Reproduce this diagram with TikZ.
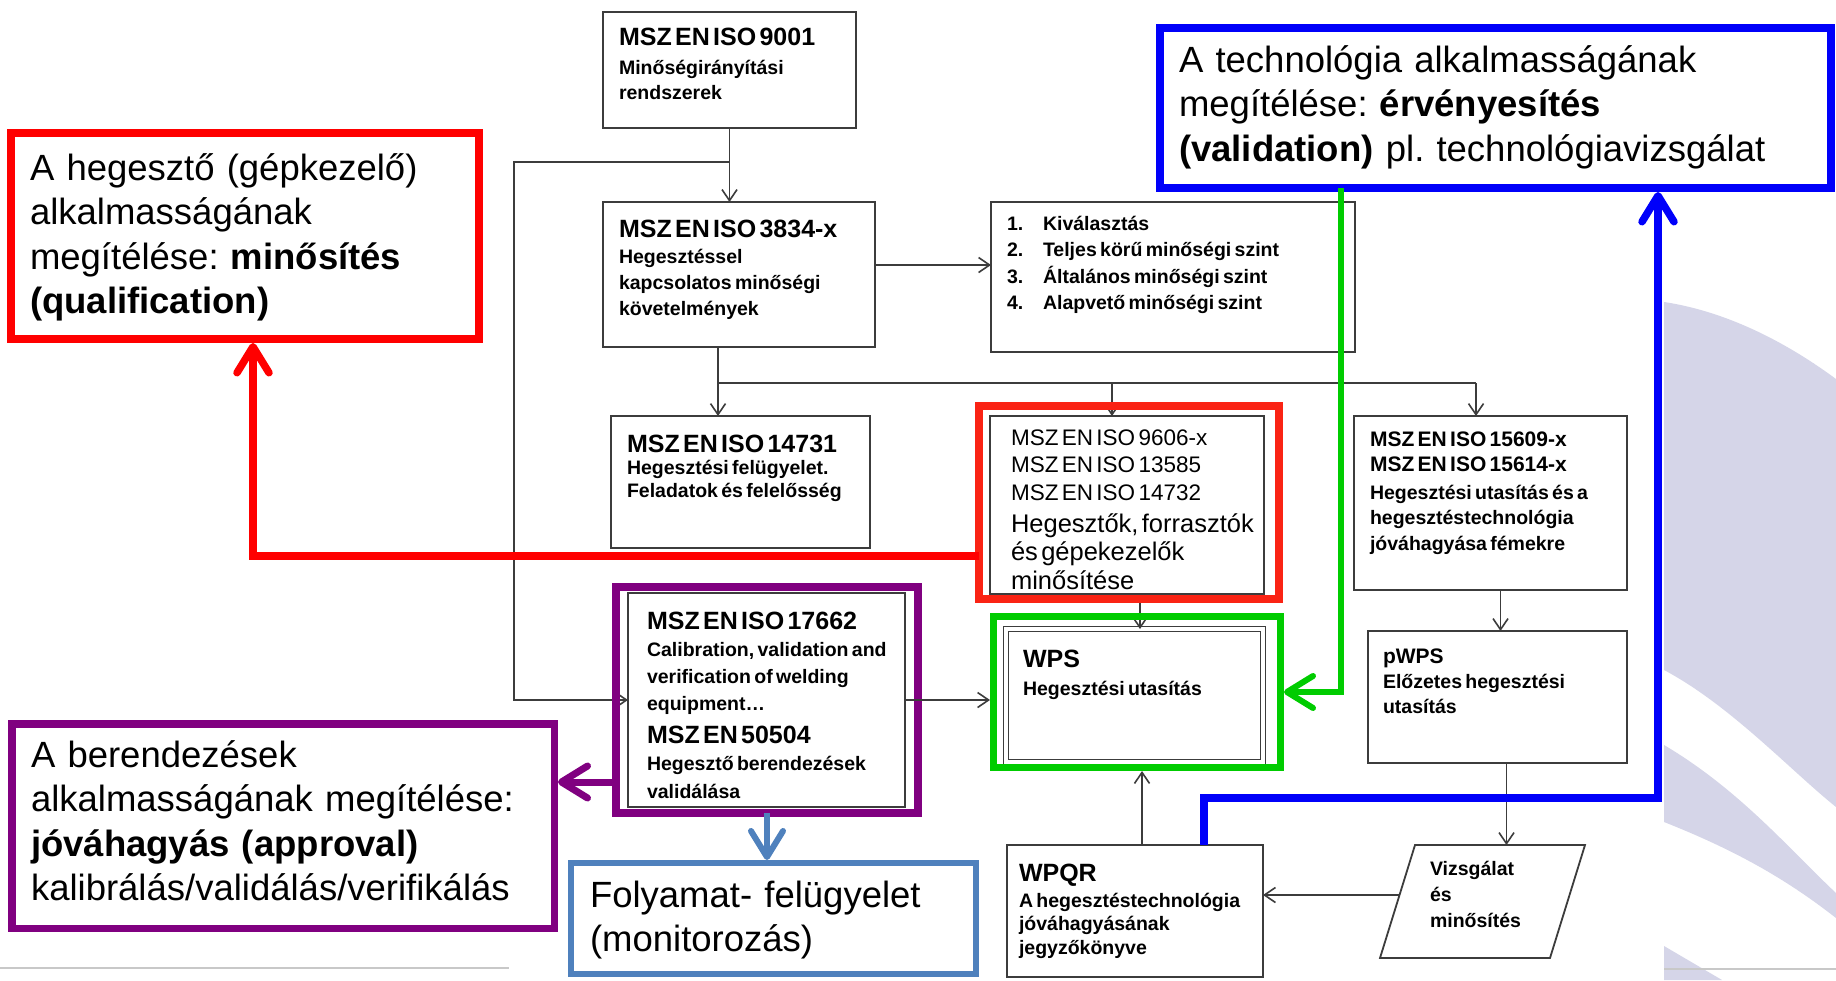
\documentclass[tikz,border=0pt]{standalone}
\usepackage{fontspec}
\setmainfont{Liberation Sans}
\usetikzlibrary{arrows.meta}
\frenchspacing

\definecolor{boxline}{RGB}{60,60,60}
\definecolor{calred}{RGB}{255,0,0}
\definecolor{frred}{RGB}{250,35,20}
\definecolor{calblue}{RGB}{0,0,250}
\definecolor{calgreen}{RGB}{0,204,0}
\definecolor{calpurple}{RGB}{128,0,128}
\definecolor{steel}{RGB}{79,129,189}
\definecolor{lav}{RGB}{213,213,232}
\definecolor{footgray}{RGB}{200,200,200}

% title line and body lines of the standard boxes
\newcommand\Ti[2]{{\fontsize{#1}{#1}\selectfont\bfseries #2\par}}
\newcommand\Bd[3]{{\fontsize{#1}{#2}\selectfont\bfseries #3\par}}
% rectangle node given by its corners
\newcommand\boxnode[6]{\node[#1, minimum width={#5pt-#3pt}, minimum height={#6pt-#4pt}] (#2) at (#3,#4) {};}

\begin{document}
\begin{tikzpicture}[x=1pt, y=-1pt,
  bx/.style={draw=boxline, line width=1.8pt, fill=white, inner sep=0pt, outer sep=0pt, anchor=north west},
  cframe/.style={line width=#1, inner sep=0pt, outer sep=0pt, anchor=north west},
  cframe/.default=8pt,
  link/.style={draw=boxline, line width=1.6pt},
  conn/.style={link, -{Straight Barb[length=11pt,width=15pt]}},
  carrow/.style={line width=#1, -{Straight Barb[length=26pt,width=32pt,line cap=round,line join=round]}},
  carrow/.default=7.5pt,
  tx/.style={anchor=base west, inner sep=0pt, outer sep=0pt, align=left},
  callfont/.style={font=\fontsize{36.5}{44.5}\selectfont}
]
\useasboundingbox (0,0) rectangle (1836,980);
\fill[white] (0,0) rectangle (1836,980);

% background swoosh on the right
\begin{scope}
  \clip (1664,0) rectangle (1836,980);
  \fill[lav] (1664,302) .. controls (1730,312) and (1790,345) .. (1836,379)
    -- (1836,807) .. controls (1790,770) and (1730,705) .. (1664,670) -- cycle;
  \fill[lav] (1664,745) .. controls (1740,790) and (1790,850) .. (1836,893)
    -- (1836,918) .. controls (1790,882) and (1740,852) .. (1664,822) -- cycle;
  \fill[lav] (1664,946) -- (1722,980) -- (1664,980) -- cycle;
\end{scope}
\draw[footgray, line width=2pt] (0,968) -- (509,968);
\draw[footgray, line width=2pt] (1664,969) -- (1836,969);

% standard boxes
\boxnode{bx}{iso9001}{603}{12}{856}{128}
\boxnode{bx}{iso3834}{603}{202}{875}{347}
\boxnode{bx}{lst}{991}{202}{1355}{352}
\boxnode{bx}{iso14731}{611}{416}{870}{548}
\boxnode{bx}{iso9606}{990}{416}{1264}{594}
\boxnode{bx}{iso15609}{1354}{416}{1627}{590}
\boxnode{bx}{iso17662}{628}{593}{905}{807}
\boxnode{bx, double=white, double distance=3.5pt, line width=1.4pt}{wps}{1006}{629}{1263}{762}
\boxnode{bx}{pwps}{1368}{631}{1627}{763}
\boxnode{bx}{wpqr}{1007}{845}{1263}{977}
\draw[boxline, line width=1.8pt, fill=white] (1415,845) -- (1585,845) -- (1550,958) -- (1380,958) -- cycle;
\coordinate (vz-top) at (1508,845);
\coordinate (vz-left) at (1399.5,895);

% black connectors
\coordinate (busL) at (718,383);
\coordinate (busM) at (1112,383);
\coordinate (busR) at (1476,383);
\draw[conn] (iso9001.south) -- (iso9001.south |- iso3834.north);
\draw[conn] (iso9001.south |- 0,162) -- (514,162) |- (iso17662.west);
\draw[conn] ([yshift=9.5pt]iso3834.east) -- ([yshift=9.5pt]iso3834.east -| lst.west);
\draw[link] (busL |- iso3834.south) -- (busL) -- (busR);
\draw[conn] (busL) -- (busL |- iso14731.north);
\draw[conn] (busM) -- (busM |- iso9606.north);
\draw[conn] (busR) -- (busR |- iso15609.north);
\draw[conn] ([xshift=13pt]iso9606.south) -- ([xshift=13pt]iso9606.south |- wps.north);
\draw[conn] ([xshift=10pt]iso15609.south) -- ([xshift=10pt]iso15609.south |- pwps.north);
\draw[conn] ([xshift=9pt]pwps.south) -- ([xshift=9pt]pwps.south |- vz-top);
\draw[conn] (vz-left) -- (wpqr.east |- vz-left);

% coloured frames and callouts
\boxnode{cframe, draw=frred}{rfr}{979}{406}{1279}{599}
\boxnode{cframe=7pt, draw=calgreen}{gfr}{993.5}{616.5}{1280.5}{767.5}
\boxnode{cframe, draw=calpurple}{pfr}{616}{587}{918}{813}
\boxnode{cframe, draw=calred, fill=white}{rcall}{11}{133}{479}{339}
\boxnode{cframe, draw=calblue, fill=white}{bcall}{1160}{28}{1831}{188}
\boxnode{cframe=7.5pt, draw=calpurple, fill=white}{pcall}{11.75}{723.75}{554.25}{928.25}
\boxnode{cframe=6pt, draw=steel, fill=white}{fol}{571}{863}{976}{974}

% connectors into and out of the frames
\draw[conn] (iso17662.east) -- ([xshift=-3.5pt]gfr.west |- iso17662.east);
\draw[conn] ([xshift=7pt]wpqr.north) -- ([xshift=7pt,yshift=-3.5pt]wpqr.north |- gfr.south);
\draw[carrow, calred] (rfr.west |- 0,556) -| ([xshift=8pt,yshift=-4pt]rcall.south);
\draw[carrow, calblue] ([xshift=69pt]wpqr.north) |- (1658,798) -- ([yshift=-4pt]bcall.south -| 1658,0);
\draw[carrow=6pt, calgreen] ([xshift=-154.5pt]bcall.south) |- ([xshift=3.5pt]gfr.east);
\draw[carrow=7pt, calpurple] (pfr.west |- 0,782) -- ([xshift=3.75pt]pcall.east |- 0,782);
\draw[carrow=6pt, steel] (pfr.south) -- ([yshift=3pt]fol.north -| pfr.south);

% texts of the standard boxes
\node[tx, text width=230pt] (t9001) at (619,45)
  {\Ti{25}{MSZ EN ISO 9001}\vspace{4pt}\Bd{19.5}{25}{Minőségirányítási\par rendszerek}};
\node[tx, text width=250pt] (t3834) at (619,237)
  {\Ti{25}{MSZ EN ISO 3834-x}\Bd{19.5}{26.3}{Hegesztéssel\par kapcsolatos minőségi\par követelmények}};
\node[tx, text width=340pt] (tlst) at (1007,230)
  {\Bd{19.5}{26.5}{\makebox[36pt][l]{1.}Kiválasztás\par
   \makebox[36pt][l]{2.}Teljes körű minőségi szint\par
   \makebox[36pt][l]{3.}Általános minőségi szint\par
   \makebox[36pt][l]{4.}Alapvető minőségi szint}};
\node[tx, text width=240pt] (t14731) at (627,452)
  {\Ti{25}{MSZ EN ISO 14731}\Bd{19.5}{22.5}{Hegesztési felügyelet.\par Feladatok és felelősség}};
\node[tx, text width=250pt] (t9606) at (1011,445)
  {{\fontsize{22.5}{27.5}\selectfont MSZ EN ISO 9606-x\par MSZ EN ISO 13585\par MSZ EN ISO 14732\par}\vspace{3.5pt}%
   {\fontsize{25.5}{28.5}\selectfont Hegesztők, forrasztók\par és gépekezelők\par minősítése\par}};
\node[tx, text width=250pt] (t15609) at (1370,446)
  {{\fontsize{21}{25}\selectfont\bfseries MSZ EN ISO 15609-x\par MSZ EN ISO 15614-x\par}\vspace{2.5pt}%
   \Bd{19.5}{25.5}{Hegesztési utasítás és a\par hegesztéstechnológia\par jóváhagyása fémekre}};
\node[tx, text width=255pt] (t17662) at (647,629)
  {\Ti{25}{MSZ EN ISO 17662}\Bd{19.5}{27}{Calibration, validation and\par verification of welding\par equipment…}\vspace{6pt}%
   {\fontsize{25}{27}\selectfont\bfseries MSZ EN 50504\par}\Bd{19.5}{27.5}{Hegesztő berendezések\par validálása}};
\node[tx, text width=235pt] (twps) at (1023,667)
  {\Ti{25}{WPS}\vspace{3pt}\Bd{19.5}{25}{Hegesztési utasítás}};
\node[tx, text width=235pt] (tpwps) at (1383,663)
  {\Ti{21}{pWPS}\Bd{19.5}{25}{Előzetes hegesztési\par utasítás}};
\node[tx, text width=240pt] (twpqr) at (1019,881)
  {\Ti{25}{WPQR}\vspace{2.5pt}\Bd{19.5}{23.5}{A hegesztéstechnológia\par jóváhagyásának\par jegyzőkönyve}};
\node[tx, text width=140pt] (tvizs) at (1430,875)
  {\Bd{19.5}{26}{Vizsgálat\par és\par minősítés}};

% callout texts
\node[tx, callfont, text width=450pt] (trcall) at (30,180)
  {A hegesztő (gépkezelő)\par alkalmasságának\par megítélése: \textbf{minősítés}\par \textbf{(qualification)}};
\node[tx, callfont, text width=650pt] (tbcall) at (1179,72)
  {A technológia alkalmasságának\par megítélése: \textbf{érvényesítés}\par \textbf{(validation)} pl. technológiavizsgálat};
\node[tx, callfont, text width=520pt] (tpcall) at (31,767)
  {A berendezések\par alkalmasságának megítélése:\par \textbf{jóváhagyás (approval)}\par kalibrálás/validálás/verifikálás};
\node[tx, callfont, text width=380pt] (tfol) at (590,907)
  {Folyamat- felügyelet\par (monitorozás)};
\end{tikzpicture}
\end{document}
